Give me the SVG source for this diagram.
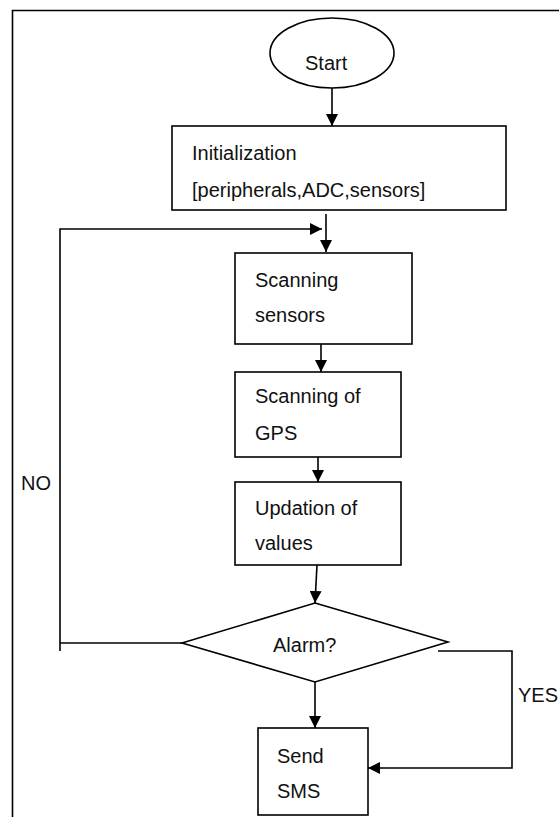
<svg xmlns="http://www.w3.org/2000/svg" width="559" height="817" viewBox="0 0 559 817">
<style>
  .shape { fill: #ffffff; stroke: #000000; stroke-width: 1.6; }
  .conn { fill: none; stroke: #000000; stroke-width: 1.6; }
  .lbl { font-family: "Liberation Sans", Arial, sans-serif; font-size: 20px; fill: #111111; }
</style>
<defs>
  <marker id="arrow" markerUnits="userSpaceOnUse" markerWidth="12" markerHeight="12" refX="12" refY="6" orient="auto">
    <path d="M0,0 L12,6 L0,12 z" fill="#000000"/>
  </marker>
</defs>
<rect x="0" y="0" width="559" height="817" fill="#ffffff"/>
<path d="M12.5 817 V10.5 H559" fill="none" stroke="#000000" stroke-width="1.6"/>

<g id="connectors">
  <path class="conn" d="M332 88 V126" marker-end="url(#arrow)"/>
  <path class="conn" d="M326 214 V252" marker-end="url(#arrow)"/>
  <path class="conn" d="M182 643 H60"/>
  <path class="conn" d="M60 651 V229 H322" marker-end="url(#arrow)"/>
  <path class="conn" d="M321 344 V372" marker-end="url(#arrow)"/>
  <path class="conn" d="M318 457 V482" marker-end="url(#arrow)"/>
  <path class="conn" d="M317 565 L315 603" marker-end="url(#arrow)"/>
  <path class="conn" d="M315 682 V728" marker-end="url(#arrow)"/>
  <path class="conn" d="M438 651 H512 V768 H368" marker-end="url(#arrow)"/>
  <text class="lbl" x="21" y="490">NO</text>
  <text class="lbl" x="518" y="702">YES</text>
</g>

<g id="start">
  <ellipse class="shape" cx="332" cy="53" rx="62" ry="35"/>
  <text class="lbl" x="305" y="70">Start</text>
</g>

<g id="init">
  <rect class="shape" x="172" y="126" width="334" height="84"/>
  <text class="lbl" x="192" y="160">Initialization</text>
  <text class="lbl" x="192" y="197">[peripherals,ADC,sensors]</text>
</g>

<g id="scan-sensors">
  <rect class="shape" x="235" y="253" width="177" height="91"/>
  <text class="lbl" x="255" y="287">Scanning</text>
  <text class="lbl" x="255" y="322">sensors</text>
</g>

<g id="scan-gps">
  <rect class="shape" x="235" y="372" width="166" height="85"/>
  <text class="lbl" x="255" y="403">Scanning of</text>
  <text class="lbl" x="255" y="440">GPS</text>
</g>

<g id="update">
  <rect class="shape" x="235" y="482" width="166" height="83"/>
  <text class="lbl" x="255" y="515">Updation of</text>
  <text class="lbl" x="255" y="550">values</text>
</g>

<g id="alarm">
  <polygon class="shape" points="315,603 448,642 315,682 182,643"/>
  <text class="lbl" x="273" y="652">Alarm?</text>
</g>

<g id="send-sms">
  <rect class="shape" x="258" y="728" width="110" height="87"/>
  <text class="lbl" x="277" y="763">Send</text>
  <text class="lbl" x="277" y="798">SMS</text>
</g>
</svg>
